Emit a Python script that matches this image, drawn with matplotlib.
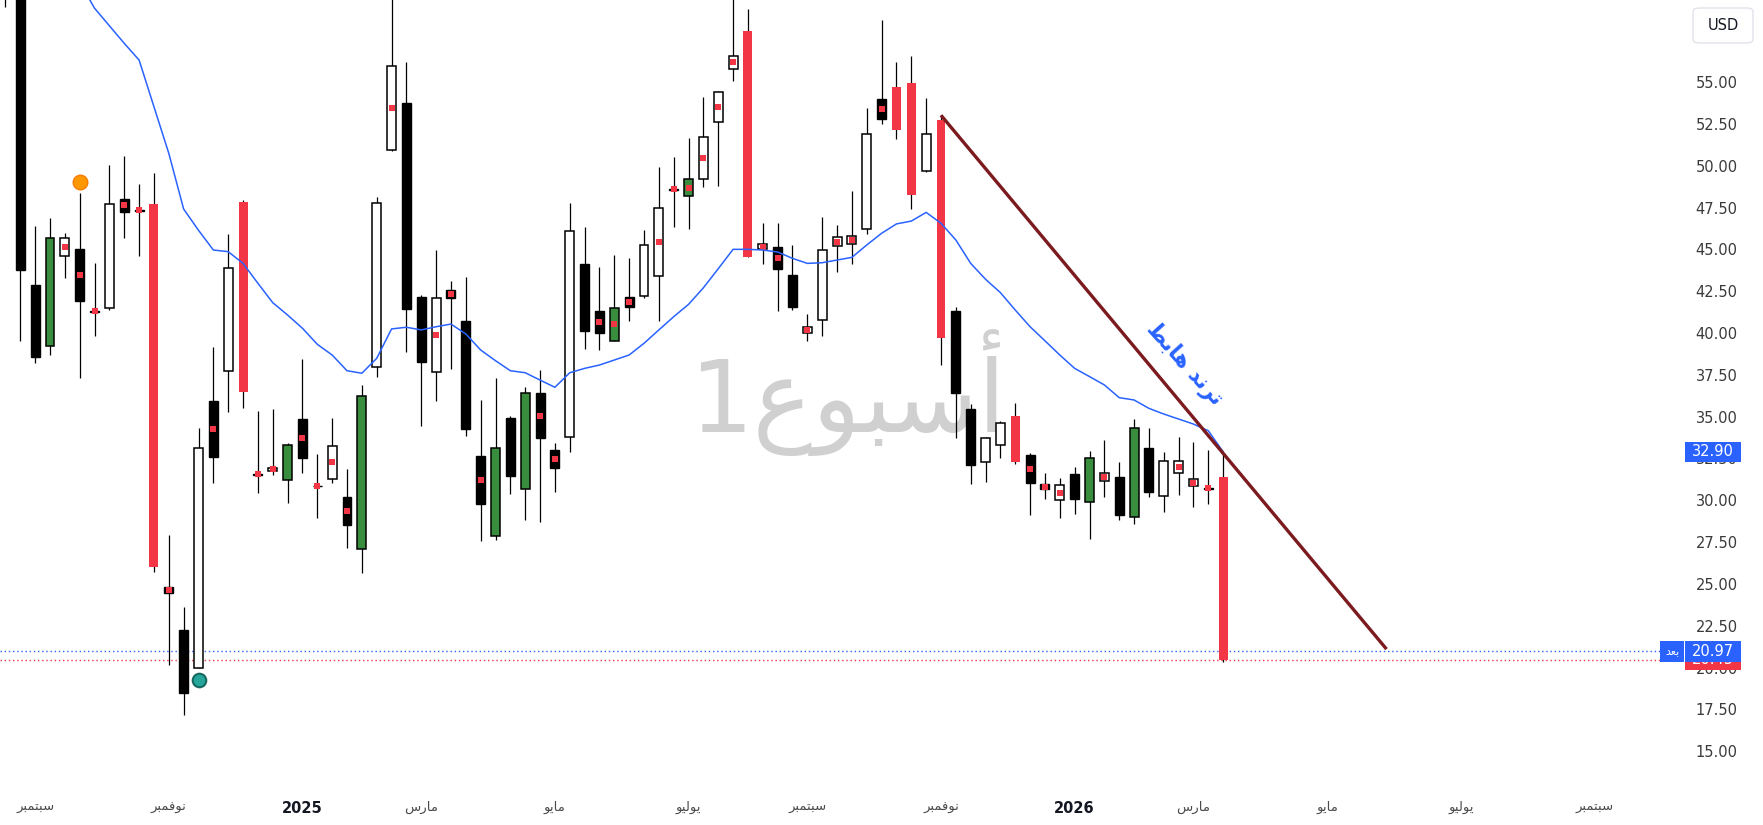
import matplotlib
matplotlib.use('Agg')
import matplotlib.pyplot as plt
from matplotlib.transforms import blended_transform_factory
from matplotlib.patches import Rectangle, FancyBboxPatch

# ---------------- data (weekly bars, index 0 = week of 26 Aug 2024) ----------------
bars = list(range(-1, 82))
opens = [61.5, 61.0, 42.9, 39.2, 44.6, 45.0, 41.35, 41.5, 48.05, 47.38, 47.7,
         24.8, 22.25, 19.95, 35.95, 37.75, 47.85, 31.6, 31.75, 31.2, 34.85,
         30.85, 31.3, 30.2, 27.1, 37.95, 50.95, 53.75, 42.15, 37.7, 42.6,
         40.7, 32.65, 27.85, 34.9, 30.65, 36.4, 33.0, 33.8, 44.15, 41.3,
         39.55, 42.15, 42.2, 43.4, 48.62, 48.2, 49.2, 52.6, 55.8, 58.05,
         45.0, 45.15, 43.45, 40.0, 40.8, 45.2, 45.3, 46.2, 54.0, 54.7,
         54.95, 49.7, 52.75, 41.3, 35.45, 32.3, 33.3, 35.05, 32.7, 31.0,
         30.0, 31.55, 29.9, 31.15, 31.4, 29.0, 33.15, 30.25, 31.65, 30.85,
         30.74, 31.4]
highs = [62.0, 62.0, 46.4, 46.9, 46.0, 48.4, 44.2, 50.05, 50.6, 48.9, 49.6,
         27.9, 23.6, 34.3, 39.15, 45.9, 47.95, 35.35, 35.45, 33.4, 38.45,
         32.75, 34.9, 31.85, 36.9, 48.15, 60.5, 56.2, 42.3, 44.95, 43.1,
         43.35, 36.0, 37.3, 35.05, 36.75, 37.8, 33.4, 47.8, 46.35, 43.95,
         44.65, 44.5, 46.15, 49.95, 50.55, 51.65, 54.15, 54.5, 60.5, 59.4,
         46.6, 46.6, 45.25, 41.15, 46.95, 46.45, 48.5, 53.45, 58.75, 56.2,
         56.55, 54.05, 53.05, 41.55, 35.75, 33.8, 34.75, 35.8, 32.8, 31.65,
         31.35, 32.0, 32.95, 33.6, 32.3, 34.85, 34.35, 32.9, 33.8, 33.5,
         33.0, 32.8]
lows = [59.5, 39.5, 38.2, 38.7, 43.3, 37.3, 39.8, 41.4, 45.7, 44.6, 25.7,
        20.15, 17.15, 19.95, 31.05, 35.3, 35.55, 30.45, 31.5, 29.85, 31.65,
        28.95, 31.05, 27.15, 25.65, 37.35, 50.9, 38.85, 34.45, 35.95, 37.85,
        33.85, 27.55, 27.6, 30.4, 28.85, 28.7, 30.5, 32.9, 39.05, 39.0,
        39.5, 40.75, 42.1, 40.75, 46.35, 46.2, 48.75, 48.8, 55.05, 44.55,
        44.15, 41.3, 41.4, 39.55, 39.85, 43.65, 44.15, 45.95, 52.5, 51.6,
        47.4, 49.65, 38.1, 33.7, 31.0, 31.1, 32.55, 32.2, 29.1, 30.1,
        28.95, 29.2, 27.7, 30.2, 28.85, 28.6, 30.2, 29.3, 30.3, 29.6,
        29.8, 20.3]
closes = [60.5, 43.8, 38.6, 45.7, 45.7, 41.9, 41.25, 47.75, 47.25, 47.3, 26.0,
          24.45, 18.5, 33.1, 32.6, 43.9, 36.45, 31.5, 31.95, 33.3, 32.55,
          30.83, 33.25, 28.5, 36.25, 47.8, 56.0, 41.45, 38.25, 42.1, 42.1,
          34.25, 29.8, 33.1, 31.45, 36.4, 33.7, 31.95, 46.1, 40.1, 40.0,
          41.5, 41.55, 45.25, 47.5, 48.58, 49.2, 51.7, 54.4, 56.6, 44.57,
          45.3, 43.85, 41.55, 40.35, 44.95, 45.75, 45.8, 51.9, 52.8, 52.15,
          48.25, 51.9, 39.7, 36.4, 32.1, 33.75, 34.6, 32.3, 31.05, 30.65,
          30.9, 30.1, 32.55, 31.65, 29.1, 34.3, 30.5, 32.35, 32.35, 31.25,
          30.7, 20.45]
# candle colour class: k = black, w = hollow, g = green, r = red
kinds = list("kkkgwkkwkkr"
             "kkwkwrkwgkk"
             "wkgwwkkwkkk"
             "gkgkkwkkgkw"
             "wkgwwwrwkkw"
             "wwwwkrrwrkk"
             "wwrkkwkgwkg"
             "kwwwkr")
dot_bars = [3, 4, 5, 7, 8, 10, 13, 16, 17, 19, 20, 21, 22, 25, 28, 29, 31, 35,
            36, 39, 40, 41, 43, 44, 45, 46, 47, 48, 50, 51, 53, 55, 56, 58,
            68, 69, 70, 73, 78, 79, 80]

ma_bars = list(range(4, 82))
ma_vals = [61.0, 59.43, 58.38, 57.33, 56.33, 53.54, 50.75, 47.42, 46.15, 44.97,
           44.87, 44.17, 42.98, 41.82, 41.08, 40.29, 39.33, 38.69, 37.75, 37.60,
           38.49, 40.25, 40.35, 40.19, 40.38, 40.54, 39.95, 38.99, 38.35, 37.75,
           37.63, 37.19, 36.76, 37.63, 37.89, 38.09, 38.39, 38.69, 39.39, 40.19,
           40.98, 41.72, 42.71, 43.85, 45.01, 45.01, 44.97, 44.85, 44.47, 44.17,
           44.21, 44.37, 44.53, 45.27, 45.97, 46.53, 46.70, 47.22, 46.57, 45.57,
           44.17, 43.22, 42.42, 41.38, 40.38, 39.54, 38.69, 37.89, 37.40, 36.90,
           36.14, 36.00, 35.50, 35.16, 34.86, 34.56, 34.16, 32.90]

trend_bars = [62, 92]
trend_prices = [53.03, 21.1]

orange_dot = (4, 49.05)
teal_dot = (12, 19.25)

last_close = 20.45
post_price = 20.97
ma_last = 32.90

# Arabic labels (visual order, presentation forms)
SEP = "\uFEAE\uFE92\uFEE4\uFE98\uFE92\uFEB3"
NOV = "\uFEAE\uFE92\uFEE4\uFED3\uFEEE\uFEE7"
MAR = "\uFEB1\uFEAD\uFE8E\uFEE3"
MAY = "\uFEEE\uFEF3\uFE8E\uFEE3"
JUL = "\uFEEE\uFEF4\uFEDF\uFEEE\uFEF3"
tick_bars = [1, 10, 19, 27, 36, 45, 53, 62, 71, 79, 88, 97, 106]
tick_labels = [SEP, NOV, "2025", MAR, MAY, JUL, SEP, NOV, "2026", MAR, MAY, JUL, SEP]
price_ticks = [15.0 + 2.5 * i for i in range(17)]
trend_text = "\uFEC2\uFE91\uFE8E\uFEEB \uFEAA\uFEE7\uFEAE\uFE97"
watermark = "1\uFEC9\uFEEE\uFE92\uFEB3\uFE83"
post_text = "\uFEAA\uFECC\uFE91"

# ---------------- figure ----------------
W, H = 1763, 825
fig = plt.figure(figsize=(W / 100, H / 100), dpi=100)
ax_right_px, ax_bottom_px = 1683, 790
ax = fig.add_axes([0, 1 - ax_bottom_px / H, ax_right_px / W, ax_bottom_px / H])
px_per_bar = 14.85
x0_px = 20.3
ax.set_xlim(-x0_px / px_per_bar, (ax_right_px - x0_px) / px_per_bar)
px_per_unit = 16.72
top_price = 55 + 82.3 / px_per_unit
ax.set_ylim(top_price - ax_bottom_px / px_per_unit, top_price)
for s in ax.spines.values():
    s.set_visible(False)

styles = {'k': ('#000000', '#000000', 1.0), 'w': ('#ffffff', '#000000', 1.1),
          'g': ('#388E3C', '#000000', 1.1), 'r': ('#F23645', '#F23645', 0.0)}

# wicks
ax.vlines(bars, lows, highs, colors='#000000', linewidth=0.9, zorder=2)
# bodies
for b, o, c, k in zip(bars, opens, closes, kinds):
    fc, ec, lw = styles[k]
    lo = min(o, c)
    h = max(abs(c - o), 0.04)
    ax.bar(b, h, bottom=lo, width=0.6, color=fc, edgecolor=ec, linewidth=lw, zorder=3)
# red dots at body centre
idx = {b: i for i, b in enumerate(bars)}
dx = dot_bars
dy = [(opens[idx[b]] + closes[idx[b]]) / 2 for b in dot_bars]
ax.scatter(dx, dy, marker='s', s=16, color='#F23645', linewidths=0, zorder=4)

ax.scatter([orange_dot[0]], [orange_dot[1]], s=110, color='#FF9800', edgecolors='#F57C00',
           linewidths=1, zorder=4)
ax.scatter([teal_dot[0]], [teal_dot[1]], s=95, color='#26A69A', edgecolors='#17695F',
           linewidths=1.5, zorder=4)

# moving average
ax.plot(ma_bars, ma_vals, color='#2962FF', linewidth=1.1, zorder=5, solid_joinstyle='round')
# trend line
ax.plot(trend_bars, trend_prices, color='#7B1A1F', linewidth=2.4, zorder=6,
        solid_capstyle='butt')

# price lines
ax.axhline(post_price, color='#2962FF', linewidth=1.0, linestyle=(0, (1, 2)), zorder=1)
ax.axhline(last_close, color='#F23645', linewidth=1.0, linestyle=(0, (1, 2)), zorder=1)

# watermark
ax.text(847 / ax_right_px, 1 - 432 / ax_bottom_px, watermark, transform=ax.transAxes,
        fontsize=72, color='#d0d0d0', ha='center', va='baseline', family='DejaVu Sans',
        zorder=0.5)

# trend annotation
ax.text(78.4, 38.15, trend_text, rotation=-48, rotation_mode='anchor', ha='center',
        va='center', fontsize=15.5, color='#2962FF', fontweight='bold', family='DejaVu Sans',
        zorder=6)

# axes ticks
ax.set_xticks(tick_bars)
ax.set_xticklabels(tick_labels, family='DejaVu Sans')
ax.tick_params(axis='x', length=0, pad=8, labelsize=9.5, labelcolor='#4a4a4a')
for t in ax.get_xticklabels():
    if t.get_text().isdigit():
        t.set_fontweight('bold')
        t.set_color('#131722')
        t.set_fontsize(10.5)
ax.yaxis.tick_right()
ax.set_yticks(price_ticks)
ax.set_yticklabels([f"{p:.2f}" for p in price_ticks])
ax.tick_params(axis='y', length=0, pad=9, labelsize=10.5, labelcolor='#3a3a3a')

# price labels on the scale
tr = blended_transform_factory(fig.transFigure, ax.transData)
box_h = 20.5 / px_per_unit


def price_box(price, color, text, z, x_px=1685, w_px=56):
    r = FancyBboxPatch((x_px / W, price - box_h / 2), w_px / W, box_h, transform=tr,
                       boxstyle='square,pad=0', facecolor=color, edgecolor='none',
                       clip_on=False, zorder=z)
    ax.add_patch(r)
    ax.text((x_px + w_px / 2) / W, price, text, transform=tr, ha='center', va='center',
            fontsize=10.5, color='white', clip_on=False, zorder=z + 0.5)


price_box(last_close, '#F23645', f"{last_close:.2f}", 10)
price_box(post_price, '#2962FF', f"{post_price:.2f}", 12)
price_box(ma_last, '#2962FF', f"{ma_last:.2f}", 12)
r = Rectangle((1660 / W, post_price - box_h / 2), 24 / W, box_h, transform=tr,
              facecolor='#2962FF', edgecolor='none', clip_on=False, zorder=12)
ax.add_patch(r)
ax.text(1672 / W, post_price, post_text, transform=tr, ha='center', va='center',
        fontsize=8, color='white', family='DejaVu Sans', clip_on=False, zorder=12.5)

# USD button
usd = FancyBboxPatch((1693 / W, 1 - 43 / H), 60 / W, 35 / H,
                     boxstyle='round,pad=0,rounding_size=0.004', transform=fig.transFigure,
                     facecolor='white', edgecolor='#e0e3eb', linewidth=1)
fig.patches.append(usd)
fig.text(1723 / W, 1 - 25 / H, "USD", ha='center', va='center', fontsize=10.5,
         color='#131722')

fig.savefig('out.png', dpi=100, facecolor='white')
